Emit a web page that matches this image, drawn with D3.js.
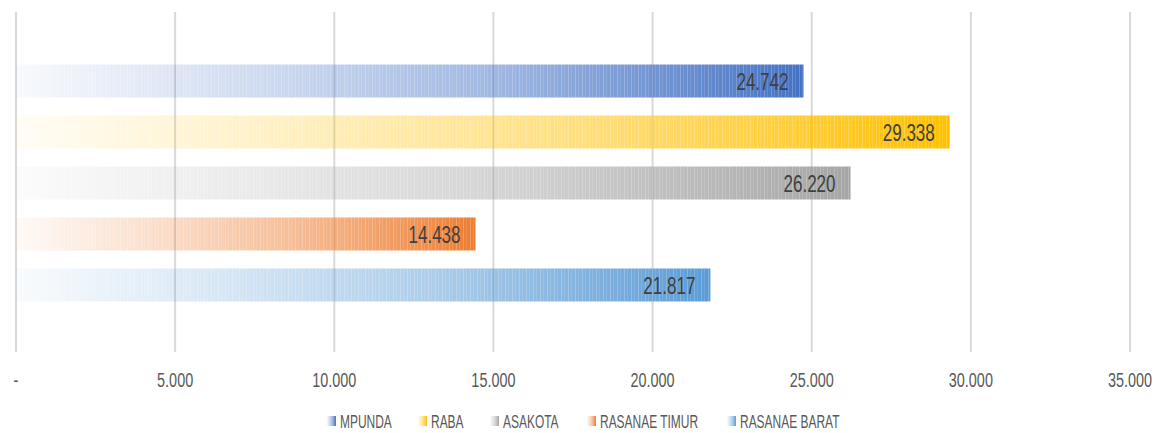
<!DOCTYPE html>
<html>
<head>
<meta charset="utf-8">
<script src="https://cdn.jsdelivr.net/npm/d3@7"></script>
<style>
  body { margin: 0; background: #fff; }
  text { font-family: "Liberation Sans", Arial, sans-serif; }
</style>
</head>
<body>
<div id="chart"></div>
<script>
"use strict";

let categories = ["MPUNDA", "RABA", "ASAKOTA", "RASANAE TIMUR", "RASANAE BARAT"];
let values = [24742, 29338, 26220, 14438, 21817];
let colors = ["#4472C4", "#FFC000", "#A5A5A5", "#ED7D31", "#5B9BD5"];
let tickValues = [0, 5000, 10000, 15000, 20000, 25000, 30000, 35000];

let width = 1155, height = 433;
let margin = {left: 16, right: 25, top: 12, bottom: 81};

let locale = d3.formatLocale({decimal: ",", thousands: ".", grouping: [3], currency: ["", ""]});
let fmt = locale.format(",d");

let svg = d3.select("#chart").append("svg")
  .attr("width", width)
  .attr("height", height);

let x = d3.scaleLinear()
  .domain([0, 35000])
  .range([margin.left, width - margin.right]);

let y = d3.scaleBand()
  .domain(categories)
  .range([55.5, 310.5])
  .paddingInner(0.353)
  .paddingOuter(0.177);

// gradients (light at left, full colour at right)
let defs = svg.append("defs");
colors.forEach(function(c, i) {
  let g = defs.append("linearGradient")
    .attr("id", "grad" + i)
    .attr("x1", "0").attr("x2", "1").attr("y1", "0").attr("y2", "0");
  [[0, 0.04], [0.3, 0.25], [0.6, 0.5], [0.85, 0.8], [1, 1]].forEach(function(s) {
    g.append("stop")
      .attr("offset", s[0])
      .attr("stop-color", c)
      .attr("stop-opacity", s[1]);
  });
});

// stripe texture overlay
let stripe = defs.append("pattern")
  .attr("id", "stripes")
  .attr("patternUnits", "userSpaceOnUse")
  .attr("width", 7).attr("height", 10);
stripe.append("rect").attr("x", 1).attr("width", 1).attr("height", 10).attr("fill", "#fff").attr("opacity", 0.22);
stripe.append("rect").attr("x", 4).attr("width", 1).attr("height", 10).attr("fill", "#fff").attr("opacity", 0.12);

// gridlines
svg.append("g")
  .selectAll("line")
  .data(tickValues)
  .enter().append("line")
  .attr("x1", d => x(d)).attr("x2", d => x(d))
  .attr("y1", margin.top).attr("y2", 352)
  .attr("stroke", "#d9d9d9")
  .attr("stroke-width", 2);

// tick labels (narrow font look via horizontal squeeze)
svg.append("g")
  .selectAll("text")
  .data(tickValues)
  .enter().append("text")
  .attr("transform", d => "translate(" + x(d) + ",387) scale(0.74,1)")
  .attr("text-anchor", "middle")
  .attr("fill", "#595959")
  .style("font-size", "19.5px")
  .text(d => d === 0 ? "-" : fmt(d));

// bars
let bars = svg.append("g");
bars.selectAll(".bar")
  .data(values)
  .enter().append("rect")
  .attr("class", "bar")
  .attr("x", x(0))
  .attr("y", (d, i) => y(categories[i]))
  .attr("width", d => x(d) - x(0))
  .attr("height", y.bandwidth())
  .attr("fill", (d, i) => "url(#grad" + i + ")");

bars.selectAll(".stripe")
  .data(values)
  .enter().append("rect")
  .attr("class", "stripe")
  .attr("x", x(0))
  .attr("y", (d, i) => y(categories[i]))
  .attr("width", d => x(d) - x(0))
  .attr("height", y.bandwidth())
  .attr("fill", "url(#stripes)");

// value labels
bars.selectAll(".label")
  .data(values)
  .enter().append("text")
  .attr("class", "label")
  .attr("transform", (d, i) => "translate(" + (x(d) - 15) + "," + (y(categories[i]) + y.bandwidth() / 2 + 9) + ") scale(0.71,1)")
  .attr("text-anchor", "end")
  .attr("fill", "#404040")
  .style("font-size", "24px")
  .text(d => fmt(d));

// legend
let legendX = [327, 418, 490, 587, 727];
let legend = svg.append("g");
let items = legend.selectAll("g")
  .data(categories)
  .enter().append("g")
  .attr("transform", (d, i) => "translate(" + legendX[i] + ",416)");

items.append("rect")
  .attr("width", 9).attr("height", 10)
  .attr("fill", (d, i) => "url(#grad" + i + ")");

items.append("text")
  .attr("transform", "translate(13,12) scale(0.63,1)")
  .attr("fill", "#595959")
  .style("font-size", "19px")
  .text(d => d);
</script>
</body>
</html>
